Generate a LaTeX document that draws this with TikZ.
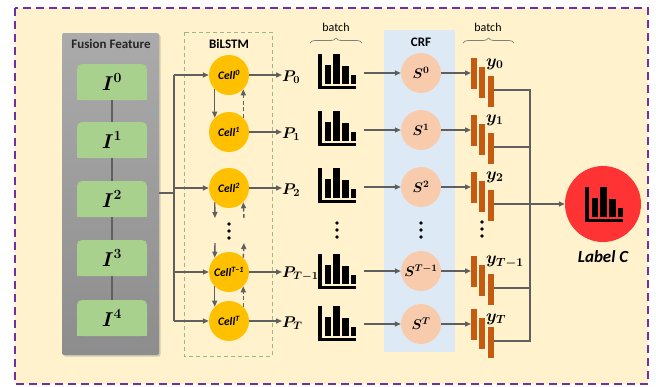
\RequirePackage{fix-cm}
\documentclass[tikz,border=0pt]{standalone}
\usepackage{fontspec}
\setmainfont{Carlito}
\usetikzlibrary{arrows.meta,decorations.pathreplacing,shadows}
\definecolor{bgY}{HTML}{FFF2CC}
\definecolor{purp}{HTML}{7030A0}
\definecolor{lgray}{HTML}{5F5F5F}
\definecolor{ggreen}{HTML}{A9D18E}
\definecolor{cellc}{HTML}{FFC000}
\definecolor{sc}{HTML}{F8CBAD}
\definecolor{barc}{HTML}{C55A11}
\definecolor{crfc}{HTML}{DDEAF6}
\definecolor{redc}{HTML}{FF3333}
\tikzset{
  ln/.style={draw=lgray, line width=1.4pt},
  arr/.style={ln, -{Triangle[length=6pt,width=5pt]}},
  darr/.style={arr, dash pattern=on 4pt off 2.5pt},
  gbox/.style={fill=ggreen, rounded corners=5pt, minimum width=70pt, minimum height=36pt, inner sep=0pt},
  gtext/.style={inner sep=0pt, font=\fontsize{20}{22}\selectfont\boldmath},
  cellnode/.style={circle, fill=cellc, minimum size=40pt, inner sep=0pt, font=\fontsize{11.5}{12}\selectfont\bfseries\itshape},
  snode/.style={circle, fill=sc, minimum size=40pt, inner sep=0pt, font=\fontsize{14}{15}\selectfont\boldmath},
  plab/.style={anchor=west, inner sep=0pt, font=\fontsize{15.5}{16}\selectfont\boldmath},
  ylab/.style={anchor=west, inner sep=0pt, font=\fontsize{17}{18}\selectfont\boldmath},
  ttl/.style={font=\fontsize{13}{15}\selectfont\bfseries},
  brc/.style={draw=gray, line width=0.7pt, decorate, decoration={brace, amplitude=5pt}},
}
\newcommand\histo[2]{%
  \begin{scope}[shift={(#1,#2)}]
    \fill (0,0) rectangle (4,-35);
    \fill (0,0) rectangle (38,-3.5);
    \fill (7,-5) rectangle (13,-24);
    \fill (15,-5) rectangle (22,-35);
    \fill (24,-5) rectangle (31,-23);
    \fill (33,-5) rectangle (38,-14);
  \end{scope}}
\newcommand\ybars[1]{%
  \fill[barc] (471,#1-15) rectangle (477,#1+16);
  \fill[barc] (479,#1-6) rectangle (485,#1+25);
  \fill[barc] (488,#1+3) rectangle (494,#1+34);}
\newcommand\mydots[2]{%
  \fill (#1,#2-7) circle (1.8);
  \fill (#1,#2) circle (1.8);
  \fill (#1,#2+7) circle (1.8);}
\begin{document}
\begin{tikzpicture}[x=1pt,y=-1pt]
\useasboundingbox (0,0) rectangle (656,386);
% outer frame
\draw[purp, line width=2.6pt, dash pattern=on 8pt off 5pt, fill=bgY] (15,8) rectangle (648,384);

% Fusion feature box
\node[draw=none, rounded corners=2pt, top color=gray!66, bottom color=gray!88!black!80, minimum width=97pt, minimum height=322pt, drop shadow={opacity=0.35, shadow xshift=1.5pt, shadow yshift=-1.5pt}] (ff) at (110.5,194) {};
\node[ttl, text=black!85] (fft) at (111,44) {Fusion Feature};
\node[gbox] (I0) at (112,82) {};
\node[gbox] (I1) at (112,140) {};
\node[gbox] (I2) at (112,199) {};
\node[gbox] (I3) at (112,258) {};
\node[gbox] (I4) at (112,318) {};
\foreach \n in {I0,I1,I2,I3,I4} {\fill[ggreen] (\n.west) rectangle (\n.south east);}
\node[gtext] (t0) at (I0) {$I^0$};
\node[gtext] (t1) at (I1) {$I^1$};
\node[gtext] (t2) at (I2) {$I^2$};
\node[gtext] (t3) at (I3) {$I^3$};
\node[gtext] (t4) at (I4) {$I^4$};
\draw[ln] (I0.south) -- (I1.north);
\draw[ln] (I1.south) -- (I2.north);
\draw[ln] (I2.south) -- (I3.north);
\draw[ln] (I3.south) -- (I4.north);

% BiLSTM box
\draw[ggreen!85!black!90, line width=1pt, dash pattern=on 4pt off 3pt] (184,32) rectangle (272,356);
\node[ttl] (bl) at (229,44) {BiLSTM};
\node[cellnode] (c0) at (229,75) {Cell\textsuperscript{0}};
\node[cellnode] (c1) at (229,132) {Cell\textsuperscript{1}};
\node[cellnode] (c2) at (229,188) {Cell\textsuperscript{2}};
\node[cellnode] (cm) at (229,272) {Cell\textsuperscript{T−1}};
\node[cellnode] (cT) at (229,321) {Cell\textsuperscript{T}};
\mydots{229}{231}

% input distribution
\coordinate (fo) at (159,193);
\coordinate (vx) at (174,193);
\draw[ln] (fo) -- (vx);
\draw[arr] (c0.west -| vx) -- (c0.west);
\draw[ln] (c0.west -| vx) -- (cT.west -| vx);
\draw[arr] (c2.west -| vx) -- (c2.west);
\draw[arr] (cm.west -| vx) -- (cm.west);
\draw[arr] (cT.west -| vx) -- (cT.west);

% vertical arrows between cells
\coordinate (d1a) at (215,218); \coordinate (d1b) at (244,218);
\coordinate (d2a) at (215,243); \coordinate (d2b) at (244,243);
\draw[arr] (c0.-135) -- (c1.135);
\draw[darr] (c1.45) -- (c0.-45);
\draw[arr] (c2.-135) -- (d1a);
\draw[darr] (d1b) -- (c2.-45);
\draw[arr] (d2a) -- (cm.135);
\draw[darr] (cm.45) -- (d2b);
\draw[arr] (cm.-135) -- (cT.135);
\draw[darr] (cT.45) -- (cm.-45);

% P labels
\node[plab] (p0) at (282,77) {$P_0$};
\node[plab] (p1) at (282,134) {$P_1$};
\node[plab] (p2) at (282,190) {$P_2$};
\node[plab] (pm) at (282,274) {$P_{T-1}$};
\node[plab] (pT) at (282,323) {$P_T$};
\draw[arr] (c0.east) -- (c0.east -| p0.west);
\draw[arr] (c1.east) -- (c1.east -| p1.west);
\draw[arr] (c2.east) -- (c2.east -| p2.west);
\draw[arr] (cm.east) -- (cm.east -| pm.west);
\draw[arr] (cT.east) -- (cT.east -| pT.west);

% histograms
\histo{318}{89}
\histo{318}{146}
\histo{318}{203}
\histo{318}{289}
\histo{318}{341}
\mydots{337}{230}
\draw[brc] (310,43) -- (362,43);
\node[font=\fontsize{12}{13}\selectfont] (b1) at (336,27) {batch};

% CRF
\fill[crfc] (384,30) rectangle (455,352);
\node[ttl] (crf) at (421,42) {CRF};
\node[snode] (s0) at (421,73) {$S^0$};
\node[snode] (s1) at (421,130) {$S^1$};
\node[snode] (s2) at (421,187) {$S^2$};
\node[snode] (sm) at (421,271) {$S^{T-1}$};
\node[snode] (sT) at (421,324) {$S^T$};
\mydots{421}{230}
\coordinate (h0) at (364,73);
\coordinate (h1) at (364,130);
\coordinate (h2) at (364,187);
\coordinate (hm) at (364,271);
\coordinate (hT) at (364,324);
\draw[arr] (h0) -- (s0.west);
\draw[arr] (h1) -- (s1.west);
\draw[arr] (h2) -- (s2.west);
\draw[arr] (hm) -- (sm.west);
\draw[arr] (hT) -- (sT.west);

% output bars
\ybars{73}\ybars{130}\ybars{187}\ybars{271}\ybars{324}
\mydots{482}{229}
\coordinate (b0) at (471,73);
\coordinate (bb1) at (471,130);
\coordinate (bb2) at (471,187);
\coordinate (bm) at (471,271);
\coordinate (bT) at (471,324);
\draw[arr] (s0.east) -- (b0);
\draw[arr] (s1.east) -- (bb1);
\draw[arr] (s2.east) -- (bb2);
\draw[arr] (sm.east) -- (bm);
\draw[arr] (sT.east) -- (bT);
\node[ylab] (y0) at (486,64) {$y_0$};
\node[ylab] (y1) at (486,120) {$y_1$};
\node[ylab] (y2) at (486,177) {$y_2$};
\node[ylab] (ym) at (486,262) {$y_{T-1}$};
\node[ylab] (yT) at (486,319) {$y_T$};
\draw[brc] (463,43) -- (514,43);
\node[font=\fontsize{12}{13}\selectfont] (b2) at (488,27) {batch};

\coordinate (r0) at (494,90);
\coordinate (r1) at (494,147);
\coordinate (r2) at (494,204);
\coordinate (rm) at (494,288);
\coordinate (rT) at (494,341);
\draw[ln] (r0) -- ++(36,0) |- (rT);
\draw[ln] (r1) -- ++(36,0);
\draw[ln] (rm) -- ++(36,0);

% Label C
\node[circle, fill=redc, minimum size=76pt, inner sep=0pt] (lc) at (603,204) {};
\histo{585}{222}
\draw[arr] (r2) -- (lc.west);
\node[font=\fontsize{17}{18}\selectfont\bfseries\itshape] (lct) at (603,257) {Label C};
\end{tikzpicture}
\end{document}
